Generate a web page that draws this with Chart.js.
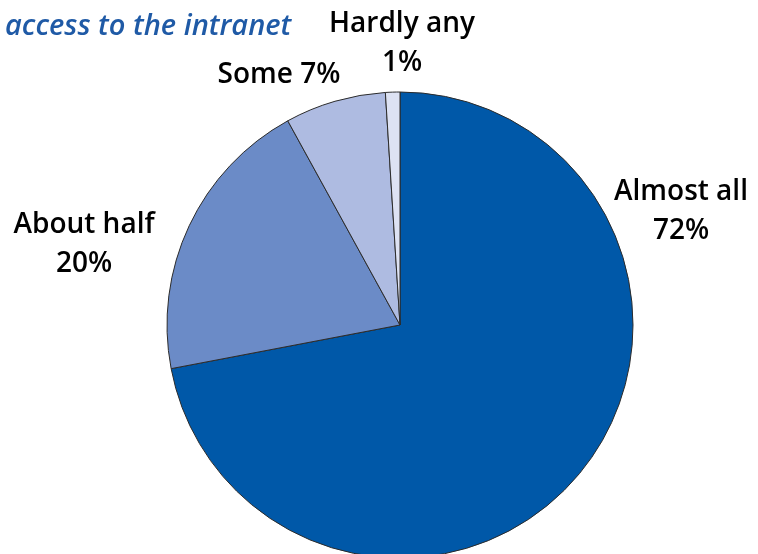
<!DOCTYPE html>
<html>
<head>
<meta charset="utf-8">
<script src="https://cdn.jsdelivr.net/npm/chart.js@4/dist/chart.umd.min.js"></script>
<style>
  html, body { margin: 0; padding: 0; background: #ffffff; }
  #wrap { width: 758px; height: 554px; position: relative; }
</style>
</head>
<body>
<div id="wrap"><canvas id="c" width="758" height="554"></canvas></div>
<script>
// Share of staff with access to the intranet
const categories = ['Almost all', 'About half', 'Some', 'Hardly any'];
const shares = [72, 20, 7, 1];
const sliceColors = ['#0058a8', '#6b8bc7', '#aebbe1', '#dde2f3'];
const titleText = 'access to the intranet';

// Baseline anchor of each slice label, and whether name and value share a line
const labelPlacement = [
  { x: 681, y: 200, oneLine: false },
  { x: 84, y: 233, oneLine: false },
  { x: 279, y: 83, oneLine: true },
  { x: 402, y: 32, oneLine: false }
];
const lineGap = 39;

const labelFont = '600 28px "Open Sans", sans-serif';

const sliceLabels = {
  id: 'sliceLabels',
  afterDraw(chart) {
    const ctx = chart.ctx;
    ctx.save();
    // title
    ctx.font = 'italic 600 29px "Open Sans", sans-serif';
    ctx.fillStyle = '#1f5aa6';
    ctx.textAlign = 'left';
    ctx.textBaseline = 'alphabetic';
    ctx.fillText(titleText, 5, 35);

    ctx.font = labelFont;
    ctx.fillStyle = '#000000';
    ctx.textAlign = 'center';
    const data = chart.data.datasets[0].data;
    chart.data.labels.forEach((name, i) => {
      const p = labelPlacement[i];
      const val = data[i] + '%';
      if (p.oneLine) {
        ctx.fillText(name + ' ' + val, p.x, p.y);
      } else {
        ctx.fillText(name, p.x, p.y);
        ctx.fillText(val, p.x, p.y + lineGap);
      }
    });
    ctx.restore();
  }
};

new Chart(document.getElementById('c'), {
  type: 'pie',
  data: {
    labels: categories,
    datasets: [{
      data: shares,
      backgroundColor: sliceColors,
      borderColor: '#2b2b2b',
      borderWidth: 1,
      radius: 233
    }]
  },
  options: {
    responsive: false,
    animation: false,
    layout: { padding: { left: 42, right: 0, top: 96, bottom: 0 } },
    plugins: {
      legend: { display: false },
      tooltip: { enabled: false },
      title: { display: false }
    }
  },
  plugins: [sliceLabels]
});
</script>
</body>
</html>
